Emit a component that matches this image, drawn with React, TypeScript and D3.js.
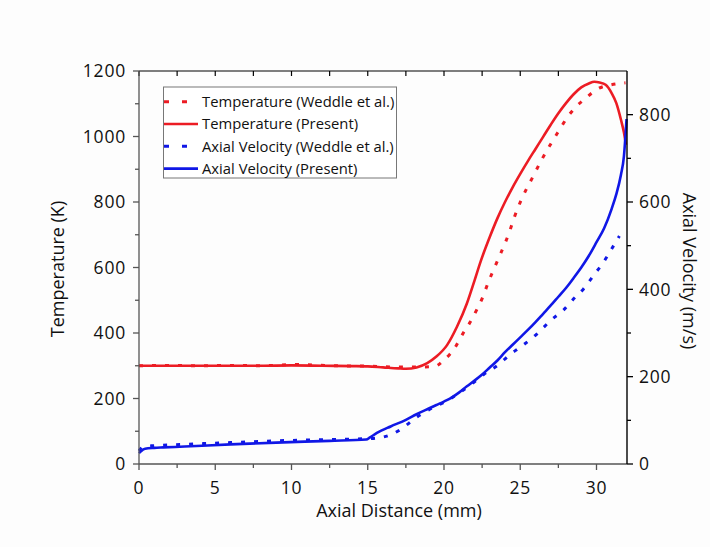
import React from "react";
import * as d3 from "d3";

// Temperature (Present): [axial distance mm, temperature K]
const tempPresent: [number, number][] = [
  [0, 300], [2, 300], [5, 300], [8, 300], [10, 301], [12, 300], [14, 299], [15, 298],
  [16, 295], [17, 292], [17.5, 291], [18.2, 295], [18.9, 308], [19.5, 328],
  [20.2, 363], [20.85, 419], [21.5, 490], [22, 560], [22.4, 618], [23, 693],
  [23.5, 750], [24, 800], [24.5, 845], [25, 886], [25.5, 925], [26, 962], [26.5, 999],
  [27, 1036], [27.5, 1071], [28, 1102], [28.5, 1129], [29, 1150], [29.5, 1162],
  [29.85, 1167], [30.2, 1165], [30.6, 1158], [31, 1132], [31.3, 1102], [31.6, 1052],
  [31.8, 1012], [31.93, 975],
];

// Temperature (Weddle et al.)
const tempWeddle: [number, number][] = [
  [0, 300], [2, 301], [4, 300], [6, 301], [8, 300], [10.5, 304], [11, 303], [13, 300],
  [15, 299], [17, 296], [18.5, 296], [19.4, 298], [20, 318], [20.4, 336], [20.7, 354],
  [21, 378], [21.3, 403], [21.7, 432], [22.2, 476], [22.5, 505], [22.9, 554], [23.2, 588],
  [23.7, 641], [24.3, 710], [24.6, 752], [25.1, 810], [25.75, 870], [26.5, 937],
  [27.5, 1015], [28.14, 1062], [28.6, 1088], [29.24, 1115], [30.1, 1146], [30.98, 1158],
  [31.9, 1164],
];

// Axial Velocity (Present): [axial distance mm, velocity m/s]
const velPresent: [number, number][] = [
  [0, 25], [0.15, 30], [0.4, 35], [1, 37], [1.6, 38], [3, 40], [6, 45], [9, 49],
  [12.5, 53], [14.9, 56], [15.15, 61], [15.6, 71], [16.5, 86], [17.5, 101], [18.2, 114],
  [19, 127], [19.5, 135], [20, 143], [20.5, 152], [21, 164], [21.5, 178], [22, 191],
  [22.5, 205], [23, 221], [23.5, 237], [24, 256], [24.5, 273], [25, 290], [25.5, 307],
  [26, 325], [26.5, 344], [27, 363], [27.5, 383], [28, 403], [28.5, 426], [29, 450],
  [29.5, 477], [30, 508], [30.5, 540], [31, 585], [31.3, 618], [31.6, 662],
  [31.8, 705], [31.97, 790],
];

// Axial Velocity (Weddle et al.)
const velWeddle: [number, number][] = [
  [0, 30], [0.3, 40], [1, 42], [3, 45], [6, 49], [9, 53], [12.5, 56], [14.9, 58],
  [15.5, 59], [16.5, 67], [17.1, 78], [17.5, 88], [18.2, 107], [19, 124], [19.5, 133],
  [20, 141], [21, 163], [22, 188], [22.6, 205], [23.6, 228], [24.3, 250], [25.1, 270],
  [26.1, 298], [27, 329], [27.85, 353], [28.6, 382], [29.15, 401], [29.85, 434],
  [30.4, 459], [31, 493], [31.5, 522],
];

const xTicks = [0, 5, 10, 15, 20, 25, 30];
const xMinorTicks = [2.5, 7.5, 12.5, 17.5, 22.5, 27.5];
const tTicks = [0, 200, 400, 600, 800, 1000, 1200];
const tMinorTicks = [100, 300, 500, 700, 900, 1100];
const vTicks = [0, 200, 400, 600, 800];
const vMinorTicks = [100, 300, 500, 700];

const RED = "#ec1c24";
const BLUE = "#1017e6";

const legendItems = [
  { label: "Temperature (Weddle et al.)", color: RED, dashed: true },
  { label: "Temperature (Present)", color: RED, dashed: false },
  { label: "Axial Velocity (Weddle et al.)", color: BLUE, dashed: true },
  { label: "Axial Velocity (Present)", color: BLUE, dashed: false },
];

const FONT = "'Open Sans', 'Noto Sans', sans-serif";

export default function App() {
  const left = 139, right = 627, top = 71, bottom = 464;
  const x = d3.scaleLinear().domain([0, 32]).range([left, right]);
  const yT = d3.scaleLinear().domain([0, 1200]).range([bottom, top]);
  const yV = d3.scaleLinear().domain([0, 900]).range([bottom, top]);

  const lineT = d3.line<[number, number]>().x(d => x(d[0])).y(d => yT(d[1])).curve(d3.curveMonotoneX);
  const lineV = d3.line<[number, number]>().x(d => x(d[0])).y(d => yV(d[1])).curve(d3.curveMonotoneX);

  const axisGray = "#555";
  const tickFont = 17.5;
  const titleFont = 18;

  return (
    <svg width={710} height={547} style={{ position: "absolute", left: 0, top: 0, background: "#fff" }}
      fontFamily={FONT}>
      <rect x={0} y={0} width={710} height={547} fill="#fdfdfd" />

      {/* data */}
      <path d={lineT(tempWeddle) || ""} fill="none" stroke={RED} strokeWidth={3} strokeDasharray="4,9" />
      <path d={lineT(tempPresent) || ""} fill="none" stroke={RED} strokeWidth={2.6} />
      <path d={lineV(velWeddle) || ""} fill="none" stroke={BLUE} strokeWidth={3} strokeDasharray="4,9" />
      <path d={lineV(velPresent) || ""} fill="none" stroke={BLUE} strokeWidth={2.6} />

      {/* top spine with inward ticks */}
      <line x1={left} x2={right} y1={top} y2={top} stroke="#000" strokeWidth={1.2} />
      {[...xTicks, ...xMinorTicks].map(t => (
        <line key={"tt" + t} x1={x(t)} x2={x(t)} y1={top} y2={top + 5} stroke="#000" strokeWidth={1.2} />
      ))}

      {/* bottom axis */}
      <line x1={left} x2={right} y1={bottom} y2={bottom} stroke={axisGray} strokeWidth={1.3} />
      {xTicks.map(t => (
        <g key={"xb" + t}>
          <line x1={x(t)} x2={x(t)} y1={bottom} y2={bottom + 6} stroke={axisGray} strokeWidth={1.3} />
          <text x={x(t)} y={494} textAnchor="middle" fontSize={tickFont} letterSpacing={0.8} fill="#111">{t}</text>
        </g>
      ))}
      {xMinorTicks.map(t => (
        <line key={"xm" + t} x1={x(t)} x2={x(t)} y1={bottom} y2={bottom + 4} stroke={axisGray} strokeWidth={1.3} />
      ))}
      <text x={399} y={517} textAnchor="middle" fontSize={titleFont} fill="#111">Axial Distance (mm)</text>

      {/* left axis */}
      <line x1={left} x2={left} y1={top} y2={bottom} stroke={axisGray} strokeWidth={1.3} />
      {tTicks.map(t => (
        <g key={"yl" + t}>
          <line x1={left - 6} x2={left} y1={yT(t)} y2={yT(t)} stroke={axisGray} strokeWidth={1.3} />
          <text x={126} y={yT(t)} dy="0.36em" textAnchor="end" fontSize={tickFont} letterSpacing={0.8} fill="#111">{t}</text>
        </g>
      ))}
      {tMinorTicks.map(t => (
        <line key={"ylm" + t} x1={left - 4} x2={left} y1={yT(t)} y2={yT(t)} stroke={axisGray} strokeWidth={1.3} />
      ))}
      <text transform={`translate(58,269) rotate(-90)`} textAnchor="middle" dy="0.36em" fontSize={titleFont} fill="#111">Temperature (K)</text>

      {/* right axis */}
      <line x1={right} x2={right} y1={top} y2={bottom} stroke="#000" strokeWidth={1.4} />
      {vTicks.map(t => (
        <g key={"yr" + t}>
          <line x1={right} x2={right + 6} y1={yV(t)} y2={yV(t)} stroke="#000" strokeWidth={1.3} />
          <text x={639} y={yV(t)} dy="0.36em" textAnchor="start" fontSize={tickFont} letterSpacing={0.8} fill="#111">{t}</text>
        </g>
      ))}
      {vMinorTicks.map(t => (
        <line key={"yrm" + t} x1={right} x2={right + 4} y1={yV(t)} y2={yV(t)} stroke="#000" strokeWidth={1.3} />
      ))}
      <text transform={`translate(689,271) rotate(90)`} textAnchor="middle" dy="0.36em" fontSize={titleFont} fill="#111">Axial Velocity (m/s)</text>

      {/* legend */}
      <rect x={163.5} y={87} width={233} height={91} fill="#fff" stroke="#777" strokeWidth={1} />
      {legendItems.map((it, i) => {
        const cy = 101.7 + i * 22.3;
        return (
          <g key={it.label}>
            <line x1={164} x2={198} y1={cy} y2={cy} stroke={it.color} strokeWidth={it.dashed ? 3 : 2.6}
              strokeDasharray={it.dashed ? "5,13" : undefined} />
            <text x={202} y={cy} dy="0.36em" fontSize={14.8} fill="#111">{it.label}</text>
          </g>
        );
      })}
    </svg>
  );
}
